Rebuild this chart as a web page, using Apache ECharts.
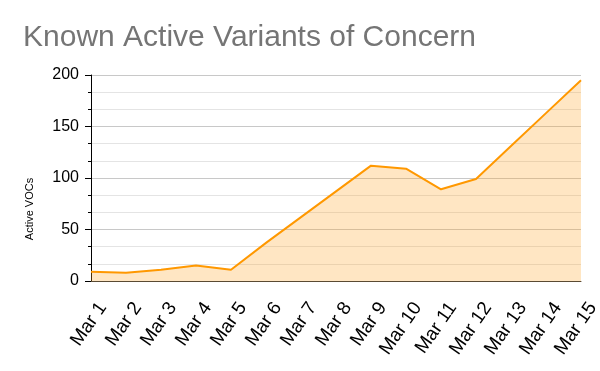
<!DOCTYPE html>
<html><head><meta charset="utf-8">
<script src="https://cdn.jsdelivr.net/npm/echarts@6/dist/echarts.min.js"></script>
<style>html,body{margin:0;padding:0;background:#fff}#c{width:600px;height:371px}</style>
</head><body><div id="c"></div>
<script>
const categories = ['Mar 1','Mar 2','Mar 3','Mar 4','Mar 5','Mar 6','Mar 7','Mar 8','Mar 9','Mar 10','Mar 11','Mar 12','Mar 13','Mar 14','Mar 15'];
const activeVOCs = [9, 8, 11, 15, 11, 37, 62, 87, 112, 109, 89, 99, 131, 163, 195];
const yTicks = [0, 50, 100, 150, 200];
const titleText = 'Known Active Variants of Concern';
const yName = 'Active VOCs';

const chart = echarts.init(document.getElementById('c'), null, {renderer:'canvas'});
chart.setOption({
  animation: false,
  title: {text: titleText, left: 18, top: 18,
    textStyle: {fontFamily: 'Liberation Sans, Arial', fontSize: 30, fontWeight: 'normal', color: '#757575'}},
  grid: {left: 91, right: 19, top: 75, bottom: 90, outerBoundsMode: 'none', containLabel: false},
  graphic: [{type: 'text', x: 30, y: 209, rotation: Math.PI/2,
    style: {text: yName, fontSize: 11, fill: '#000', fontFamily: 'Liberation Sans, Arial', align: 'center', verticalAlign: 'middle'}}],
  xAxis: {type: 'category', data: categories, boundaryGap: false,
    axisLine: {lineStyle: {color: '#5a4a33', width: 1}},
    axisTick: {show: false},
    axisLabel: {rotate: 55, align: 'right', verticalAlign: 'top', padding: [5, 0, 0, 0],
      fontSize: 19, color: '#000', fontFamily: 'Liberation Sans, Arial', margin: 15, interval: 0}},
  yAxis: {type: 'value', min: yTicks[0], max: yTicks[yTicks.length-1], interval: 50,
    axisLine: {show: true, lineStyle: {color: '#000'}},
    axisTick: {show: true, length: 6, lineStyle: {color: '#000'}},
    minorTick: {show: true, splitNumber: 3, length: 3, lineStyle: {color: '#000'}},
    splitLine: {show: true, lineStyle: {color: '#c8c8c8'}},
    minorSplitLine: {show: true, lineStyle: {color: '#e4e4e4'}},
    axisLabel: {fontSize: 16, color: '#000', fontFamily: 'Liberation Sans, Arial', margin: 12}},
  series: [{type: 'line', data: activeVOCs, symbol: 'none',
    lineStyle: {color: '#ff9800', width: 2},
    areaStyle: {color: 'rgba(255,167,38,0.4)'}}]
});
</script></body></html>
